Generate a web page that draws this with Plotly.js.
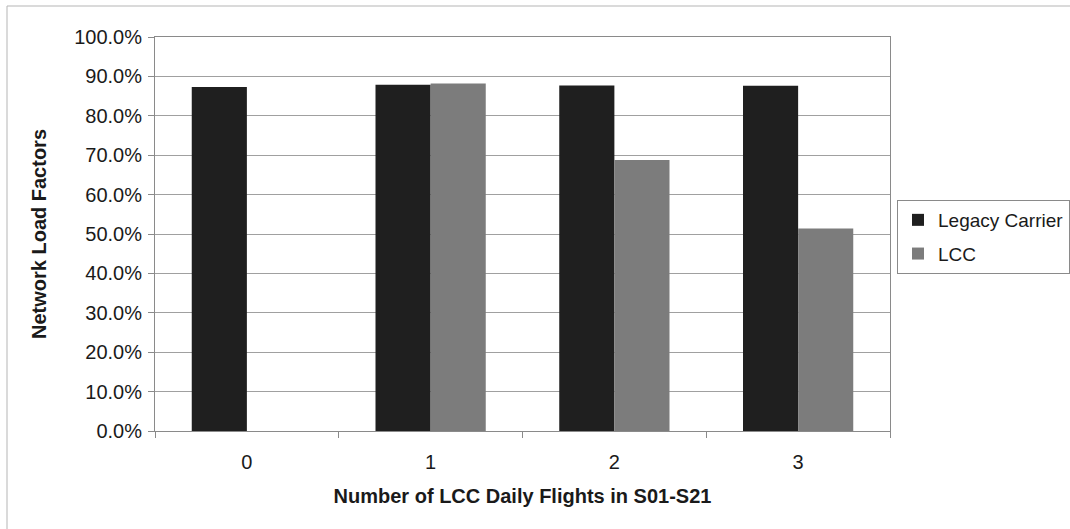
<!DOCTYPE html>
<html>
<head>
<meta charset="utf-8">
<script src="https://cdn.plot.ly/plotly-3.0.1.min.js"></script>
<style>
  html, body { margin: 0; padding: 0; background: #fff; }
  #chart { width: 1070px; height: 529px; }
</style>
</head>
<body>
<div id="chart"></div>
<script>
const categories = ["0", "1", "2", "3"];
const legacyCarrier = [0.873, 0.879, 0.877, 0.876];
const lcc = [0, 0.882, 0.688, 0.514];
const seriesNames = ["Legacy Carrier", "LCC"];
const xTitle = "Number of LCC Daily Flights in S01-S21";
const yTitle = "Network Load Factors";

const W = 1070, H = 529;
const M = { l: 155, r: 180, t: 37, b: 98, autoexpand: false };
const pw = W - M.l - M.r, ph = H - M.t - M.b;
const px = v => (v - M.l) / pw;
const py = v => (H - M.b - v) / ph;

const traces = [
  { type: "bar", x: categories, y: legacyCarrier, name: seriesNames[0], legendgroup: "a",
    marker: { color: "#1f1f1f", line: { width: 0 } }, hoverinfo: "y" },
  { type: "bar", x: categories, y: lcc, name: seriesNames[1], legendgroup: "b",
    marker: { color: "#7c7c7c", line: { width: 0 } }, hoverinfo: "y" }
];

const layout = {
  width: W, height: H,
  margin: M,
  paper_bgcolor: "#fff", plot_bgcolor: "#fff",
  font: { family: "Liberation Sans, Arial, sans-serif", color: "#1a1a1a", size: 18 },
  barmode: "group",
  bargap: 0.4, bargroupgap: 0,
  showlegend: true,
  legend: {
    x: px(897), y: py(200), xanchor: "left", yanchor: "top",
    bordercolor: "#8a8a8a", borderwidth: 1, bgcolor: "#fff",
    font: { size: 19, color: "#1a1a1a" },
    tracegroupgap: 6, traceorder: "grouped", itemwidth: 30
  },
  xaxis: {
    type: "category",
    tickson: "boundaries", ticks: "outside", ticklen: 6, tickcolor: "#8a8a8a",
    showline: true, linecolor: "#8a8a8a", linewidth: 1, mirror: true,
    showgrid: false, zeroline: false,
    tickfont: { size: 20 }, ticklabelstandoff: 13,
    title: { text: xTitle, font: { size: 20, weight: "bold" }, standoff: 16 }
  },
  yaxis: {
    range: [0, 1], dtick: 0.1, tickformat: ".1%",
    ticks: "outside", ticklen: 6, tickcolor: "#8a8a8a",
    showline: true, linecolor: "#8a8a8a", linewidth: 1, mirror: true,
    showgrid: true, gridcolor: "#a0a0a0", gridwidth: 1, zeroline: false,
    tickfont: { size: 20 }, ticklabelstandoff: 2,
    title: { text: yTitle, font: { size: 20, weight: "bold" }, standoff: 22 }
  },
  shapes: [
    { type: "rect", xref: "paper", yref: "paper",
      x0: px(7), x1: px(1080), y0: py(540), y1: py(6),
      line: { color: "#b5b5b5", width: 1 }, fillcolor: "rgba(0,0,0,0)", layer: "below" }
  ]
};

Plotly.newPlot("chart", traces, layout, { displayModeBar: false, staticPlot: true });
</script>
</body>
</html>
